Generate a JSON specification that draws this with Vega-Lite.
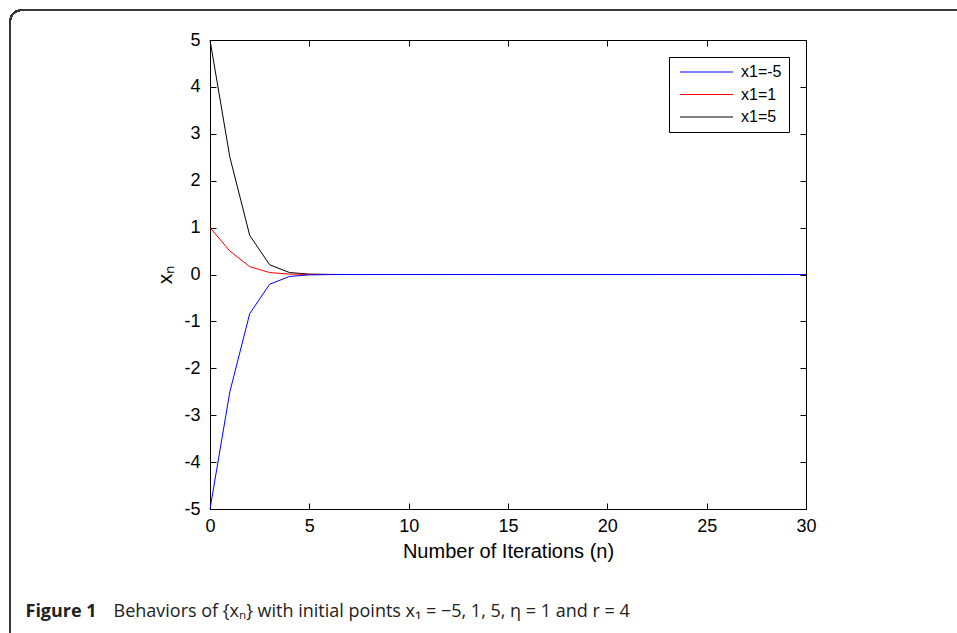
{
  "$schema": "https://vega.github.io/schema/vega-lite/v6.json",
  "width": 596,
  "height": 469,
  "autosize": {"type": "none"},
  "padding": {"left": 210, "top": 40, "right": 151, "bottom": 124},
  "background": "white",
  "config": {
    "font": "Liberation Sans",
    "view": {"stroke": "black", "strokeWidth": 1},
    "axis": {"grid": false, "domain": false, "tickColor": "black", "labelColor": "black", "titleColor": "black", "labelFont": "Liberation Sans", "titleFont": "Liberation Sans", "titleFontWeight": "normal"}
  },
  "data": {
    "values": [
      {"n": 0, "x": 5, "series": "x1=5"}, {"n": 1, "x": 2.5, "series": "x1=5"}, {"n": 2, "x": 0.8333, "series": "x1=5"}, {"n": 3, "x": 0.2083, "series": "x1=5"}, {"n": 4, "x": 0.0417, "series": "x1=5"}, {"n": 5, "x": 0.0083, "series": "x1=5"}, {"n": 6, "x": 0.0014, "series": "x1=5"}, {"n": 7, "x": 0.0002, "series": "x1=5"}, {"n": 8, "x": 0, "series": "x1=5"}, {"n": 9, "x": 0, "series": "x1=5"}, {"n": 10, "x": 0, "series": "x1=5"}, {"n": 11, "x": 0, "series": "x1=5"}, {"n": 12, "x": 0, "series": "x1=5"}, {"n": 13, "x": 0, "series": "x1=5"}, {"n": 14, "x": 0, "series": "x1=5"}, {"n": 15, "x": 0, "series": "x1=5"}, {"n": 16, "x": 0, "series": "x1=5"}, {"n": 17, "x": 0, "series": "x1=5"}, {"n": 18, "x": 0, "series": "x1=5"}, {"n": 19, "x": 0, "series": "x1=5"}, {"n": 20, "x": 0, "series": "x1=5"}, {"n": 21, "x": 0, "series": "x1=5"}, {"n": 22, "x": 0, "series": "x1=5"}, {"n": 23, "x": 0, "series": "x1=5"}, {"n": 24, "x": 0, "series": "x1=5"}, {"n": 25, "x": 0, "series": "x1=5"}, {"n": 26, "x": 0, "series": "x1=5"}, {"n": 27, "x": 0, "series": "x1=5"}, {"n": 28, "x": 0, "series": "x1=5"}, {"n": 29, "x": 0, "series": "x1=5"}, {"n": 30, "x": 0, "series": "x1=5"},
      {"n": 0, "x": 1, "series": "x1=1"}, {"n": 1, "x": 0.5, "series": "x1=1"}, {"n": 2, "x": 0.1667, "series": "x1=1"}, {"n": 3, "x": 0.0417, "series": "x1=1"}, {"n": 4, "x": 0.0083, "series": "x1=1"}, {"n": 5, "x": 0.0014, "series": "x1=1"}, {"n": 6, "x": 0.0002, "series": "x1=1"}, {"n": 7, "x": 0, "series": "x1=1"}, {"n": 8, "x": 0, "series": "x1=1"}, {"n": 9, "x": 0, "series": "x1=1"}, {"n": 10, "x": 0, "series": "x1=1"}, {"n": 11, "x": 0, "series": "x1=1"}, {"n": 12, "x": 0, "series": "x1=1"}, {"n": 13, "x": 0, "series": "x1=1"}, {"n": 14, "x": 0, "series": "x1=1"}, {"n": 15, "x": 0, "series": "x1=1"}, {"n": 16, "x": 0, "series": "x1=1"}, {"n": 17, "x": 0, "series": "x1=1"}, {"n": 18, "x": 0, "series": "x1=1"}, {"n": 19, "x": 0, "series": "x1=1"}, {"n": 20, "x": 0, "series": "x1=1"}, {"n": 21, "x": 0, "series": "x1=1"}, {"n": 22, "x": 0, "series": "x1=1"}, {"n": 23, "x": 0, "series": "x1=1"}, {"n": 24, "x": 0, "series": "x1=1"}, {"n": 25, "x": 0, "series": "x1=1"}, {"n": 26, "x": 0, "series": "x1=1"}, {"n": 27, "x": 0, "series": "x1=1"}, {"n": 28, "x": 0, "series": "x1=1"}, {"n": 29, "x": 0, "series": "x1=1"}, {"n": 30, "x": 0, "series": "x1=1"},
      {"n": 0, "x": -5, "series": "x1=-5"}, {"n": 1, "x": -2.5, "series": "x1=-5"}, {"n": 2, "x": -0.8333, "series": "x1=-5"}, {"n": 3, "x": -0.2083, "series": "x1=-5"}, {"n": 4, "x": -0.0417, "series": "x1=-5"}, {"n": 5, "x": -0.0083, "series": "x1=-5"}, {"n": 6, "x": -0.0014, "series": "x1=-5"}, {"n": 7, "x": -0.0002, "series": "x1=-5"}, {"n": 8, "x": 0, "series": "x1=-5"}, {"n": 9, "x": 0, "series": "x1=-5"}, {"n": 10, "x": 0, "series": "x1=-5"}, {"n": 11, "x": 0, "series": "x1=-5"}, {"n": 12, "x": 0, "series": "x1=-5"}, {"n": 13, "x": 0, "series": "x1=-5"}, {"n": 14, "x": 0, "series": "x1=-5"}, {"n": 15, "x": 0, "series": "x1=-5"}, {"n": 16, "x": 0, "series": "x1=-5"}, {"n": 17, "x": 0, "series": "x1=-5"}, {"n": 18, "x": 0, "series": "x1=-5"}, {"n": 19, "x": 0, "series": "x1=-5"}, {"n": 20, "x": 0, "series": "x1=-5"}, {"n": 21, "x": 0, "series": "x1=-5"}, {"n": 22, "x": 0, "series": "x1=-5"}, {"n": 23, "x": 0, "series": "x1=-5"}, {"n": 24, "x": 0, "series": "x1=-5"}, {"n": 25, "x": 0, "series": "x1=-5"}, {"n": 26, "x": 0, "series": "x1=-5"}, {"n": 27, "x": 0, "series": "x1=-5"}, {"n": 28, "x": 0, "series": "x1=-5"}, {"n": 29, "x": 0, "series": "x1=-5"}, {"n": 30, "x": 0, "series": "x1=-5"}
    ]
  },
  "layer": [
    {
      "mark": {"type": "line", "strokeWidth": 1},
      "encoding": {
        "x": {"field": "n", "type": "quantitative", "scale": {"domain": [0, 30], "nice": false, "zero": false},
              "axis": {"orient": "bottom", "values": [0, 5, 10, 15, 20, 25, 30], "labelExpr": "'' + datum.value", "labelFlush": false, "tickSize": -6, "labelPadding": 14, "labelFontSize": 18, "title": "Number of Iterations (n)", "titleFontSize": 20, "titlePadding": 6}},
        "y": {"field": "x", "type": "quantitative", "scale": {"domain": [-5, 5], "nice": false, "zero": false},
              "axis": {"orient": "left", "values": [-5, -4, -3, -2, -1, 0, 1, 2, 3, 4, 5], "labelExpr": "'' + datum.value", "labelFlush": false, "tickSize": -6, "labelPadding": 16, "labelFontSize": 18, "title": "xₙ", "titleFontSize": 21, "titlePadding": 8}},
        "color": {"field": "series", "type": "nominal", "sort": ["x1=-5", "x1=1", "x1=5"],
                  "scale": {"domain": ["x1=-5", "x1=1", "x1=5"], "range": ["#0000ff", "#ff0000", "#000000"]},
                  "legend": {"title": null, "orient": "none", "legendX": 459, "legendY": 17, "symbolType": "M-5.3,0H5.3", "symbolSize": 100, "symbolOffset": 22.5, "symbolStrokeWidth": 1, "symbolFillColor": "transparent", "labelFontSize": 16, "labelFont": "Liberation Sans", "labelColor": "black", "labelOffset": 26.5, "rowPadding": 6.5, "padding": 7, "strokeColor": "black", "fillColor": "white"}}
      }
    },
    {
      "mark": {"type": "line", "opacity": 0},
      "encoding": {
        "x": {"field": "n", "type": "quantitative", "axis": {"orient": "top", "values": [0, 5, 10, 15, 20, 25, 30], "tickSize": -6, "labels": false, "title": null}},
        "y": {"field": "x", "type": "quantitative", "axis": {"orient": "right", "values": [-5, -4, -3, -2, -1, 0, 1, 2, 3, 4, 5], "tickSize": -6, "labels": false, "title": null}},
        "detail": {"field": "series"}
      }
    },
    {
      "mark": {"type": "rect", "filled": false, "stroke": "#3a3a3a", "strokeWidth": 1.5, "cornerRadius": 12, "clip": false},
      "encoding": {
        "x": {"datum": -10.07, "type": "quantitative", "axis": {"orient": "bottom", "ticks": false, "labels": false, "title": "Behaviors of {xₙ} with initial points x₁ = −5, 1, 5, η = 1 and r = 4", "titleX": -97, "titleY": 107, "titleAlign": "left", "titleAnchor": null, "titleBaseline": "alphabetic", "titleFont": "Open Sans", "titleFontSize": 18, "titleColor": "#222222"}},
        "x2": {"datum": 45},
        "y": {"datum": 5.64, "type": "quantitative", "axis": {"orient": "left", "ticks": false, "labels": false, "title": "Figure 1", "titleAngle": 0, "titleX": -185, "titleY": 576, "titleAlign": "left", "titleBaseline": "alphabetic", "titleFont": "Open Sans", "titleFontSize": 18, "titleFontWeight": "bold", "titleColor": "#222222"}},
        "y2": {"datum": -8}
      }
    }
  ],
  "resolve": {"axis": {"x": "independent", "y": "independent"}}
}
